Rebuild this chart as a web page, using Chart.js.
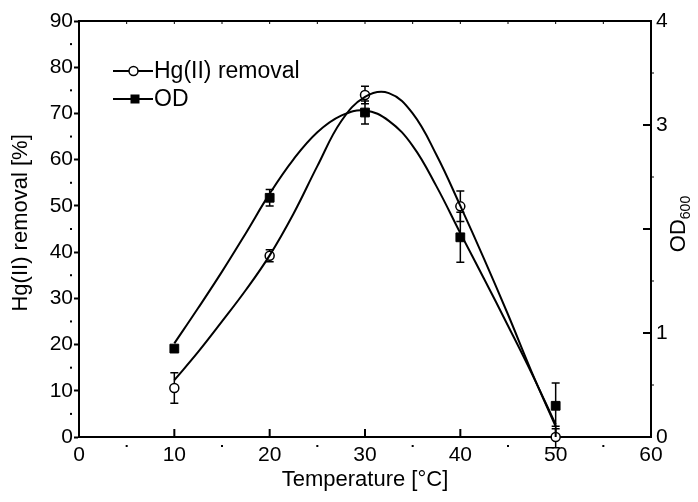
<!DOCTYPE html>
<html>
<head>
<meta charset="utf-8">
<script src="https://cdn.jsdelivr.net/npm/chart.js@4.4.1/dist/chart.umd.min.js"></script>
<style>
  html, body { margin: 0; padding: 0; background: #fff; }
  #chart { display: block; }
</style>
</head>
<body>
<canvas id="chart" width="698" height="502"></canvas>
<script>
// measured points
const temps = [10, 20, 30, 40, 50];
const hgRemoval = [10.6, 39.2, 74.0, 49.9, 0];
const hgErr = [3.3, 1.3, 1.9, 3.3, 2.3];
const odValues = [0.85, 2.30, 3.12, 1.92, 0.30];
const odErr = [0, 0.08, 0.11, 0.24, 0.22];

// fitted curves
const fitTemps = [10, 12.5, 15, 17.5, 20, 22.5, 25, 27.5, 30, 32.5, 35, 37.5, 40, 42.5, 45, 47.5, 50];
const hgFit = [12.3, 18.4, 25, 31.8, 39.3, 48.3, 58.6, 68.3, 73.6, 74.4, 70, 61, 50, 38.5, 26.5, 14, 2.3];
const odFit = [0.9, 1.24, 1.59, 1.96, 2.34, 2.67, 2.93, 3.09, 3.14, 3.04, 2.8, 2.41, 1.96, 1.52, 1.07, 0.61, 0.12];

const FONT = "'Liberation Sans', Arial, sans-serif";

function pairs(xs, ys) {
  return xs.map((x, i) => ({ x: x, y: ys[i] }));
}

function drawBars(ctx, xs, ys, values, errs) {
  temps.forEach((t, i) => {
    if (!errs[i]) return;
    const x = xs.getPixelForValue(t);
    const y1 = ys.getPixelForValue(values[i] + errs[i]);
    const y2 = ys.getPixelForValue(values[i] - errs[i]);
    ctx.beginPath();
    ctx.moveTo(x, y1); ctx.lineTo(x, y2);
    ctx.moveTo(x - 4, y1); ctx.lineTo(x + 4, y1);
    ctx.moveTo(x - 4, y2); ctx.lineTo(x + 4, y2);
    ctx.stroke();
  });
}

const errorBars = {
  id: "errorBars",
  beforeDatasetsDraw(chart) {
    const { ctx, scales } = chart;
    ctx.save();
    ctx.strokeStyle = "#000";
    ctx.lineWidth = 1.5;
    drawBars(ctx, scales.x, scales.y, hgRemoval, hgErr);
    drawBars(ctx, scales.x, scales.y1, odValues, odErr);
    ctx.restore();
  },
};

// frame bits Chart.js can't do: top line, inward ticks, dotted minor ticks
const frame = {
  id: "frame",
  afterDatasetsDraw(chart) {
    const { ctx, chartArea: a, scales } = chart;
    const { x, y, y1 } = scales;
    ctx.save();
    ctx.strokeStyle = "#000";
    ctx.fillStyle = "#000";
    ctx.lineWidth = 2;
    ctx.beginPath();
    ctx.moveTo(a.left - 1, a.top); ctx.lineTo(a.right + 1, a.top);
    ctx.stroke();

    ctx.beginPath();
    for (let v = 10; v < x.max; v += 10) {
      const px = x.getPixelForValue(v);
      ctx.moveTo(px, a.bottom); ctx.lineTo(px, a.bottom - 8);
    }
    for (let v = 1; v < y1.max; v += 1) {
      const py = y1.getPixelForValue(v);
      ctx.moveTo(a.right, py); ctx.lineTo(a.right - 8, py);
    }
    ctx.stroke();

    ctx.lineWidth = 1;
    ctx.beginPath();
    for (let v = 5; v < x.max; v += 5) {
      const px = x.getPixelForValue(v);
      ctx.moveTo(px, a.top); ctx.lineTo(px, a.top + 3);
    }
    for (let v = 0.5; v < y1.max; v += 1) {
      const py = y1.getPixelForValue(v);
      ctx.moveTo(a.right, py); ctx.lineTo(a.right + 3, py);
    }
    ctx.stroke();

    for (let v = 5; v < y.max; v += 10) {
      ctx.fillRect(70, y.getPixelForValue(v) - 1, 2, 2);
    }
    for (let v = 5; v < x.max; v += 10) {
      ctx.fillRect(x.getPixelForValue(v) - 1, a.bottom + 8, 2, 2);
    }
    ctx.restore();
  },
};

const legendAndTitle = {
  id: "legendAndTitle",
  afterDraw(chart) {
    const { ctx } = chart;
    ctx.save();
    ctx.strokeStyle = "#000";
    ctx.fillStyle = "#000";
    ctx.lineWidth = 2;

    // legend
    ctx.beginPath();
    ctx.moveTo(113, 71); ctx.lineTo(129, 71);
    ctx.moveTo(138, 71); ctx.lineTo(153, 71);
    ctx.moveTo(113, 99); ctx.lineTo(153, 99);
    ctx.stroke();
    ctx.lineWidth = 1.5;
    ctx.beginPath();
    ctx.arc(133.5, 71, 4.5, 0, Math.PI * 2);
    ctx.fillStyle = "#fff";
    ctx.fill();
    ctx.stroke();
    ctx.fillStyle = "#000";
    ctx.fillRect(130.5, 94.5, 9, 9);

    ctx.font = "23px " + FONT;
    ctx.textBaseline = "middle";
    ctx.textAlign = "left";
    ctx.fillText("Hg(II) removal", 154, 72);
    ctx.fillText("OD", 154, 100);

    // right axis title with subscript
    ctx.translate(685, 224);
    ctx.rotate(-Math.PI / 2);
    ctx.textBaseline = "alphabetic";
    ctx.textAlign = "left";
    ctx.font = "22px " + FONT;
    const w1 = ctx.measureText("OD").width;
    ctx.font = "14px " + FONT;
    const w2 = ctx.measureText("600").width;
    const start = -(w1 + w2) / 2;
    ctx.font = "22px " + FONT;
    ctx.fillText("OD", start, 0);
    ctx.font = "14px " + FONT;
    ctx.fillText("600", start + w1, 5);
    ctx.restore();
  },
};

new Chart(document.getElementById("chart"), {
  type: "scatter",
  data: {
    datasets: [
      {
        label: "Hg(II) removal fit",
        data: pairs(fitTemps, hgFit),
        showLine: true,
        tension: 0.4,
        borderColor: "#000",
        borderWidth: 2,
        pointRadius: 0,
        yAxisID: "y",
      },
      {
        label: "OD fit",
        data: pairs(fitTemps, odFit),
        showLine: true,
        tension: 0.4,
        borderColor: "#000",
        borderWidth: 2,
        pointRadius: 0,
        yAxisID: "y1",
      },
      {
        label: "Hg(II) removal",
        data: pairs(temps, hgRemoval),
        pointStyle: "circle",
        pointRadius: 4.5,
        backgroundColor: "#fff",
        borderColor: "#000",
        borderWidth: 1.5,
        clip: false,
        yAxisID: "y",
      },
      {
        label: "OD",
        data: pairs(temps, odValues),
        pointStyle: "rect",
        pointRadius: 6.2,
        backgroundColor: "#000",
        borderColor: "#000",
        borderWidth: 1,
        clip: false,
        yAxisID: "y1",
      },
    ],
  },
  options: {
    responsive: false,
    animation: false,
    devicePixelRatio: 1,
    layout: { padding: { top: 21, left: 0, right: 0, bottom: 0 } },
    plugins: { legend: { display: false }, tooltip: { enabled: false } },
    scales: {
      x: {
        type: "linear",
        min: 0,
        max: 60,
        afterFit: (s) => { s.height = 65; },
        ticks: { stepSize: 10, color: "#000", padding: 6, font: { family: FONT, size: 21 } },
        grid: { drawOnChartArea: false, drawTicks: false },
        border: { color: "#000", width: 2 },
        title: {
          display: true,
          text: "Temperature [°C]",
          color: "#000",
          font: { family: FONT, size: 22 },
          padding: { top: 0, bottom: 9 },
        },
      },
      y: {
        position: "left",
        min: 0,
        max: 90,
        afterFit: (s) => { s.width = 79; },
        ticks: { stepSize: 10, color: "#000", padding: 1, font: { family: FONT, size: 21 } },
        grid: { drawOnChartArea: false, drawTicks: true, tickLength: 5, tickColor: "#000", tickWidth: 2 },
        border: { color: "#000", width: 2 },
        title: {
          display: true,
          text: "  Hg(II) removal [%]",
          color: "#000",
          font: { family: FONT, size: 22 },
          padding: { top: 8, bottom: 0 },
        },
      },
      y1: {
        position: "right",
        min: 0,
        max: 4,
        afterFit: (s) => { s.width = 47; },
        ticks: {
          stepSize: 1,
          color: "#000",
          padding: 5,
          font: { family: FONT, size: 21 },
          callback: (v) => (v === 2 ? "" : v),
        },
        grid: { drawOnChartArea: false, drawTicks: false },
        border: { color: "#000", width: 2 },
      },
    },
  },
  plugins: [errorBars, frame, legendAndTitle],
});
</script>
</body>
</html>
